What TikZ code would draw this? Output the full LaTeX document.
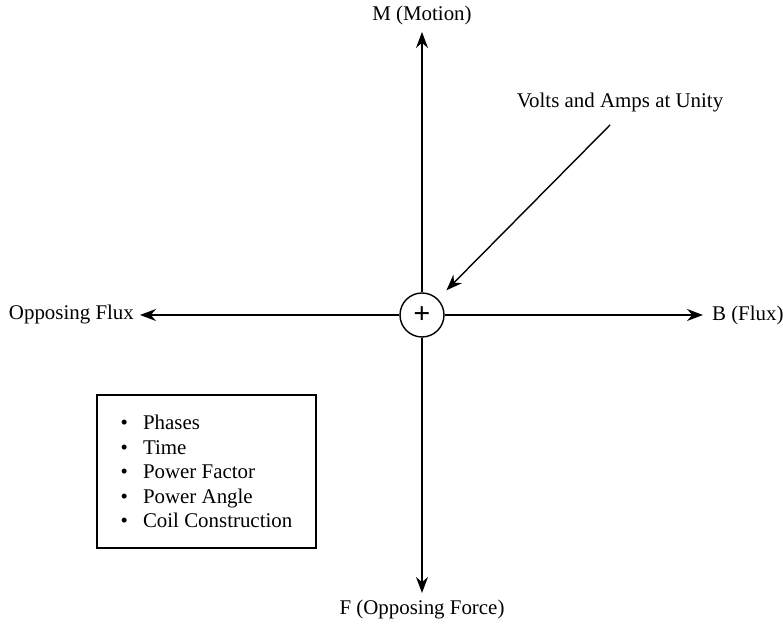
\documentclass[tikz,border=0pt]{standalone}
\usepackage{fontspec}
\setmainfont{Liberation Serif}
\usetikzlibrary{arrows.meta, positioning, calc}

\begin{document}
\begin{tikzpicture}[
    axis/.style={-{Stealth[length=3.2mm, width=2.4mm]}, line width=0.8pt},
    lbl/.style={font=\fontsize{11.9}{14}\selectfont, inner sep=1pt}
  ]
                    \useasboundingbox (0,0) rectangle (15.66,12.54);

                    % Centre
                    \node[draw, circle, line width=0.8pt, minimum size=0.88cm, inner sep=0pt, font=\fontsize{17}{17}\selectfont\bfseries] at (8.44,6.24) (ctr) {+};

                    % Arrow tips
                    \coordinate (mtip) at (8.44,11.9);
                    \coordinate (ftip) at (8.44,0.68);
                    \coordinate (btip) at (14.06,6.24);
                    \coordinate (otip) at (2.8,6.24);
                    \coordinate (vstart) at (12.2,10.04);

                    % Labels
                    \node[lbl] at (8.44,12.24) (mot) {M (Motion)};
                    \node[lbl] at (8.44,0.34) (opf) {F (Opposing Force)};
                    \node[lbl, anchor=west] at (14.2,6.24) (flux) {B (Flux)};
                    \node[lbl, anchor=east] at (2.72,6.24) (oflux) {Opposing Flux};
                    \node[lbl] at (12.4,10.48) (volts) {Volts and Amps at Unity};

                    % Box
                    \node[draw, line width=0.8pt, minimum width=4.38cm, minimum height=3.06cm,
                          align=left, font=\fontsize{11.9}{13.9}\selectfont] at (4.13,3.11) (list) {%
                      \textbullet\hspace{0.3cm}Phases\\
                      \textbullet\hspace{0.3cm}Time\\
                      \textbullet\hspace{0.3cm}Power Factor\\
                      \textbullet\hspace{0.3cm}Power Angle\\
                      \textbullet\hspace{0.3cm}Coil Construction};

                    % Arrows
                    \foreach \tip in {mtip, ftip, btip, otip} \draw[axis] (ctr) -- (\tip);
                    \draw[axis, shorten >=0.24cm] (vstart) -- (ctr);
                \end{tikzpicture}
\end{document}
